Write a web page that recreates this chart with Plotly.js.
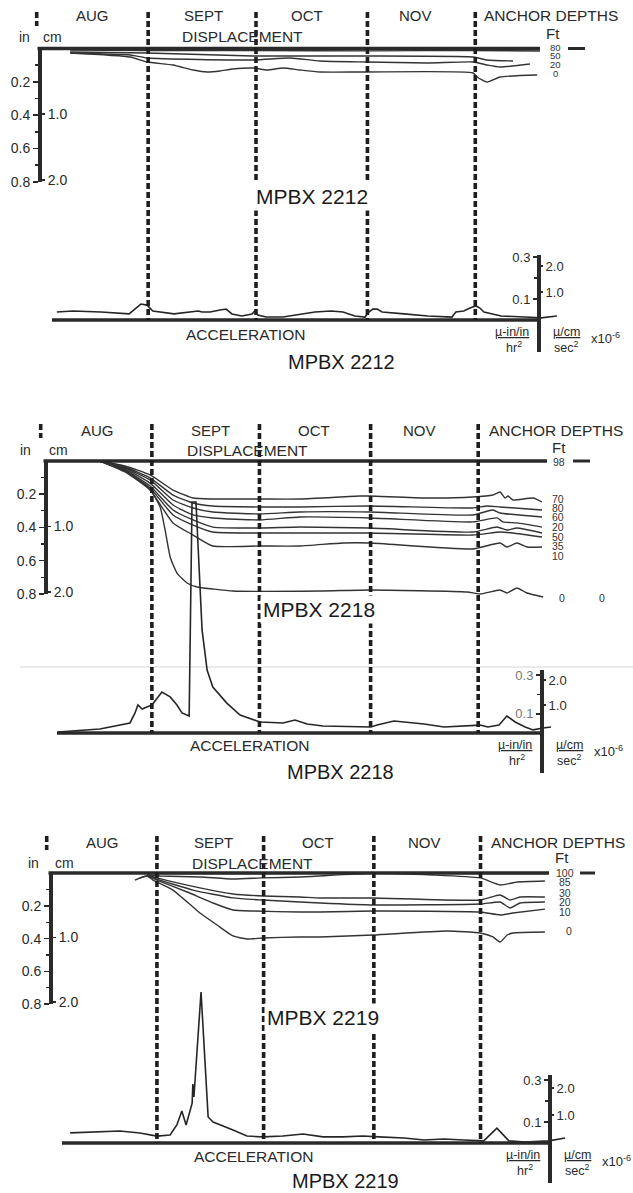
<!DOCTYPE html>
<html><head><meta charset="utf-8">
<script src="https://cdn.plot.ly/plotly-3.0.1.min.js"></script>
<style>html,body{margin:0;padding:0;background:#fff;}#chart{width:633px;height:1193px;}</style>
</head><body><div id="chart"></div>
<script>
// ================= DATA =================
const months = ['AUG', 'SEPT', 'OCT', 'NOV'];
const monthStartDays = [0, 31, 61, 92, 122];          // Aug 1, Sep 1, Oct 1, Nov 1, Dec 1 (days from Aug 1)
const instruments = ['MPBX 2212', 'MPBX 2218', 'MPBX 2219'];
const inTickVals = [0.2, 0.4, 0.6, 0.8];
const inMinorTicks = [0.1, 0.3, 0.5, 0.7];
const cmTickVals = [1.0, 2.0];
const accTickVals = [0.1, 0.3];
const accMinorTicks = [0.2];
const accCmTickVals = [1.0, 2.0];

// ---- MPBX 2212 : displacement (in) per anchor depth (ft) ----
const p1Depths = ['80', '50', '20', '0'];
const p1Day80 = [9.3, 30.7, 61.3, 92.4, 121.4, 140.0];
const p1In80  = [0.010, 0.012, 0.012, 0.014, 0.012, 0.015];
const p1Day50 = [9.3, 30.7, 60.2, 78.8, 91.9, 121.4, 125.3, 132.5];
const p1In50  = [0.021, 0.027, 0.045, 0.045, 0.045, 0.051, 0.069, 0.075];
const p1Day20 = [9.3, 26.0, 30.7, 60.2, 70.5, 78.8, 91.9, 108.6, 121.4, 125.3, 128.9, 137.2];
const p1In20  = [0.027, 0.039, 0.057, 0.069, 0.057, 0.075, 0.081, 0.087, 0.081, 0.099, 0.111, 0.093];
const p1Day0  = [9.3, 26.0, 30.7, 37.9, 43.5, 47.4, 51.0, 54.6, 60.2, 64.1, 68.5, 73.2, 78.8, 91.9, 121.4, 122.5, 125.3, 128.9, 139.2];
const p1In0   = [0.027, 0.051, 0.081, 0.099, 0.129, 0.141, 0.135, 0.123, 0.117, 0.129, 0.117, 0.129, 0.141, 0.141, 0.147, 0.171, 0.201, 0.171, 0.159];
// acceleration (micro-in/in/hr^2)
const p1AccDay = [5.6, 10.1, 17.9, 25.7, 27.3, 29.0, 30.7, 32.3, 38.2, 43.8, 44.9, 46.0, 48.2, 51.0, 52.7, 54.3, 57.1, 59.9, 60.7, 61.5, 63.8, 68.5, 77.4, 81.9, 85.2, 88.5, 91.3, 92.4, 93.5, 94.7, 96.1, 102.2, 108.8, 115.5, 116.6, 118.8, 120.5, 122.2, 123.3, 124.4, 129.2, 135.8, 140.3, 144.7];
const p1Acc    = [0.038, 0.043, 0.038, 0.029, 0.052, 0.076, 0.071, 0.043, 0.029, 0.038, 0.043, 0.038, 0.038, 0.048, 0.052, 0.029, 0.019, 0.029, 0.043, 0.024, 0.014, 0.014, 0.038, 0.043, 0.038, 0.019, 0.014, 0.038, 0.052, 0.052, 0.038, 0.029, 0.019, 0.014, 0.038, 0.043, 0.057, 0.067, 0.057, 0.038, 0.019, 0.014, 0.010, 0.019];

// ---- MPBX 2218 ----
const p2Depths = ['98', '70', '80', '60', '20', '50', '35', '10', '0'];
const p2Day70 = [16.5, 23.5, 30.5, 36.9, 42.5, 48.0, 61.1, 72.3, 89.0, 91.8, 107.7, 120.5, 126.1, 128.1, 129.5, 130.3, 131.7, 137.3, 139.8];
const p2In70  = [0, 0.030, 0.084, 0.175, 0.223, 0.229, 0.229, 0.229, 0.211, 0.211, 0.223, 0.217, 0.205, 0.187, 0.223, 0.211, 0.235, 0.223, 0.247];
const p2Day80 = [16.5, 23.5, 30.5, 36.9, 42.5, 48.0, 61.1, 72.3, 91.8, 120.5, 124.5, 128.1, 139.8];
const p2In80  = [0, 0.036, 0.102, 0.205, 0.253, 0.271, 0.277, 0.277, 0.271, 0.283, 0.271, 0.277, 0.295];
const p2Day60 = [16.5, 23.5, 30.5, 36.9, 42.5, 48.0, 61.1, 72.3, 91.8, 120.5, 126.1, 128.1, 139.8];
const p2In60  = [0, 0.042, 0.114, 0.235, 0.283, 0.307, 0.319, 0.307, 0.307, 0.325, 0.295, 0.313, 0.337];
const p2Day20 = [16.5, 23.5, 30.5, 36.9, 42.5, 48.0, 61.1, 72.3, 91.8, 120.5, 127.3, 128.9, 132.8, 139.8];
const p2In20  = [0, 0.048, 0.133, 0.265, 0.325, 0.343, 0.355, 0.337, 0.343, 0.367, 0.343, 0.367, 0.373, 0.398];
const p2Day50 = [16.5, 23.5, 30.5, 36.9, 42.5, 48.0, 61.1, 72.3, 91.8, 120.5, 127.3, 130.0, 132.8, 139.8];
const p2In50  = [0, 0.054, 0.151, 0.295, 0.355, 0.398, 0.404, 0.398, 0.404, 0.428, 0.398, 0.416, 0.404, 0.434];
const p2Day35 = [16.5, 23.5, 30.5, 36.9, 42.5, 48.0, 61.1, 72.3, 91.8, 120.5, 128.1, 131.7, 139.8];
const p2In35  = [0, 0.060, 0.163, 0.325, 0.386, 0.428, 0.434, 0.434, 0.434, 0.446, 0.428, 0.434, 0.458];
const p2Day10 = [16.5, 23.5, 30.5, 36.9, 42.5, 48.0, 61.1, 72.3, 84.3, 91.8, 120.5, 128.1, 130.0, 132.8, 135.6, 139.8];
const p2In10  = [0, 0.066, 0.175, 0.373, 0.446, 0.512, 0.512, 0.512, 0.494, 0.494, 0.530, 0.494, 0.518, 0.494, 0.518, 0.518];
const p2Day0  = [16.5, 24.1, 28.5, 31.0, 33.3, 34.7, 36.1, 38.0, 40.8, 43.6, 48.0, 53.6, 77.9, 91.8, 118.9, 122.5, 128.1, 130.0, 132.8, 135.6, 140.1];
const p2In0   = [0, 0.066, 0.133, 0.187, 0.277, 0.416, 0.578, 0.675, 0.735, 0.759, 0.771, 0.783, 0.783, 0.777, 0.789, 0.801, 0.777, 0.795, 0.765, 0.795, 0.819];
const p2AccDay = [4.8, 16.5, 24.9, 26.3, 27.1, 28.3, 29.6, 31.0, 33.8, 36.1, 38.0, 39.4, 41.4, 42.2, 43.3, 44.1, 45.0, 46.4, 48.0, 51.9, 55.6, 61.2, 67.6, 70.9, 74.3, 78.7, 87.6, 92.1, 93.8, 98.5, 101.3, 106.9, 112.5, 118.0, 122.5, 124.7, 127.8, 130.0, 132.3, 135.1, 137.3, 140.1, 142.3];
const p2Acc    = [0.005, 0.021, 0.052, 0.104, 0.145, 0.124, 0.135, 0.145, 0.212, 0.187, 0.145, 0.104, 0.088, 1.197, 1.197, 0.896, 0.534, 0.326, 0.238, 0.155, 0.093, 0.057, 0.052, 0.067, 0.047, 0.036, 0.031, 0.031, 0.041, 0.062, 0.057, 0.047, 0.031, 0.036, 0.041, 0.031, 0.041, 0.088, 0.057, 0.031, 0.016, 0.026, 0.031];

// ---- MPBX 2219 ----
const p3Depths = ['100', '85', '30', '20', '10', '0'];
const p3Day100 = [28.2, 31.0, 60.8, 91.8, 121.9, 141.0];
const p3In100  = [0.006, 0.004, 0.003, 0.002, 0.003, 0.004];
const p3Day85 = [28.2, 31.9, 43.1, 52.4, 60.8, 71.2, 91.8, 108.6, 121.9, 127.5, 132.3, 140.1];
const p3In85  = [0.012, 0.018, 0.024, 0.037, 0.030, 0.024, 0.002, 0.012, 0.030, 0.073, 0.055, 0.049];
const p3Day30 = [28.2, 31.0, 43.1, 52.4, 60.8, 71.2, 76.9, 91.8, 121.9, 127.5, 130.3, 133.1, 140.1];
const p3In30  = [0.012, 0.030, 0.091, 0.128, 0.140, 0.146, 0.152, 0.152, 0.165, 0.134, 0.165, 0.146, 0.146];
const p3Day20 = [28.2, 31.0, 41.1, 52.4, 60.8, 71.2, 76.9, 91.8, 121.9, 127.5, 130.3, 133.1, 140.1];
const p3In20  = [0.012, 0.037, 0.104, 0.152, 0.165, 0.177, 0.183, 0.195, 0.189, 0.177, 0.213, 0.183, 0.177];
const p3Day10 = [26.2, 28.2, 31.0, 39.5, 46.8, 52.4, 58.0, 71.2, 76.9, 91.8, 121.9, 127.5, 131.1, 140.1];
const p3In10  = [0.030, 0.018, 0.043, 0.116, 0.183, 0.226, 0.232, 0.238, 0.238, 0.232, 0.238, 0.256, 0.244, 0.220];
const p3Day0  = [24.8, 28.2, 29.9, 35.5, 43.1, 47.9, 52.4, 56.3, 60.8, 71.2, 76.9, 91.8, 112.6, 121.9, 125.5, 127.5, 129.5, 131.1, 140.1];
const p3In0   = [0.043, 0.018, 0.043, 0.104, 0.244, 0.317, 0.384, 0.402, 0.396, 0.390, 0.390, 0.378, 0.354, 0.366, 0.390, 0.421, 0.378, 0.366, 0.360];
const p3AccDay = [6.6, 13.0, 20.6, 26.2, 31.0, 34.7, 36.6, 38.0, 39.2, 40.9, 41.1, 41.4, 43.4, 45.4, 46.8, 52.4, 56.3, 60.8, 66.4, 72.1, 77.7, 83.3, 88.9, 93.4, 100.5, 106.1, 111.7, 117.3, 122.9, 126.6, 130.0, 134.5, 141.2, 145.8];
const p3Acc    = [0.048, 0.052, 0.057, 0.048, 0.033, 0.038, 0.086, 0.152, 0.086, 0.190, 0.281, 0.219, 0.719, 0.124, 0.100, 0.062, 0.033, 0.029, 0.033, 0.043, 0.029, 0.029, 0.033, 0.029, 0.024, 0.014, 0.019, 0.014, 0.010, 0.071, 0.010, 0.005, 0.010, 0.024];

// ================= BUILD =================
const W = 633, H = 1193;
const FONT = '"Liberation Sans", Arial, Helvetica, sans-serif';
const INK = '#2a2a2a';
const pyP = py => 1 - py / H;
const pxP = px => px / W;

const series = [
  { disp: [[p1Day80, p1In80], [p1Day50, p1In50], [p1Day20, p1In20], [p1Day0, p1In0]], acc: [p1AccDay, p1Acc] },
  { disp: [[p2Day70, p2In70], [p2Day80, p2In80], [p2Day60, p2In60], [p2Day20, p2In20], [p2Day50, p2In50], [p2Day35, p2In35], [p2Day10, p2In10], [p2Day0, p2In0]], acc: [p2AccDay, p2Acc] },
  { disp: [[p3Day100, p3In100], [p3Day85, p3In85], [p3Day30, p3In30], [p3Day20, p3In20], [p3Day10, p3In10], [p3Day0, p3In0]], acc: [p3AccDay, p3Acc] }
];

// layout geometry (pixels)
const geo = [
  { x0: 36.7, kx: 3.595, dz: 48.5, ds: 166.7, az: 320, as: 210, cz: 318, cs: 26, axL: 39, lineR: 540, accL: 52, accR: 538, rTop: 255, rBot: 352,
    dashTop: 12, dTop: 38, dBot: 205, aTop: 5, aBot: 335,
    monthX: [92, 203, 307, 415], monthY: 16, anchorX: 551, ftX: 553, ftY: 33, inX: 24, cmX: 52, unitY: 37, dispX: 242,
    midX: 312, midY: 197, accTxtX: 245, accTxtY: 334, botX: 341, botY: 362,
    depthSize: 9.5,
    depthLabels: [['80', 555, 47.5], ['50', 555, 56], ['20', 555, 64.5], ['0', 555, 73.5]], depthDash: [568, 585] },
  { x0: 40.7, kx: 3.586, dz: 461, ds: 166, az: 733, as: 193, cz: 730, cs: 25, axL: 45, lineR: 547, accL: 57, accR: 541, rTop: 670, rBot: 773,
    dashTop: 424, dTop: 451, dBot: 615, aTop: 415, aBot: 750,
    monthX: [97, 210, 314, 419], monthY: 430, anchorX: 556, ftX: 559, ftY: 447, inX: 25, cmX: 58, unitY: 450, dispX: 247,
    midX: 319, midY: 609, accTxtX: 249, accTxtY: 745, botX: 340, botY: 772,
    depthSize: 10.5,
    depthLabels: [['98', 559, 462], ['70', 558, 499], ['80', 558, 508], ['60', 558, 517], ['20', 558, 527], ['50', 558, 537], ['35', 558, 546], ['10', 558, 556], ['0', 562, 598], ['0', 602, 598]], depthDash: [573, 590] },
  { x0: 46.7, kx: 3.556, dz: 873, ds: 164, az: 1143, as: 210, cz: 1142, cs: 27, axL: 50, lineR: 549, accL: 62, accR: 549, rTop: 1075, rBot: 1183,
    dashTop: 836, dTop: 863, dBot: 1025, aTop: 830, aBot: 1160,
    monthX: [102, 214, 318, 424], monthY: 842, anchorX: 558, ftX: 562, ftY: 857, inX: 33, cmX: 64, unitY: 863, dispX: 252,
    midX: 323, midY: 1017, accTxtX: 253, accTxtY: 1156, botX: 345, botY: 1181,
    depthSize: 10.5,
    depthLabels: [['100', 565, 873], ['85', 565, 882], ['30', 565, 893], ['20', 565, 902], ['10', 565, 912], ['0', 569, 931]], depthDash: [580, 595] }
];

const layout = {
  width: W, height: H, autosize: false, margin: { l: 0, r: 0, t: 0, b: 0 },
  paper_bgcolor: '#ffffff', plot_bgcolor: 'rgba(0,0,0,0)', showlegend: false,
  shapes: [], annotations: []
};
const traces = [];

function ann(text, px, py, size, extra) {
  return Object.assign({
    text: text, x: pxP(px), y: pyP(py), xref: 'paper', yref: 'paper', showarrow: false,
    xanchor: 'center', yanchor: 'middle', font: { family: FONT, size: size, color: INK }
  }, extra || {});
}
const yk = n => n === 1 ? 'yaxis' : 'yaxis' + n;
const yr = n => n === 1 ? 'y' : 'y' + n;

const axBase = {
  showline: true, linewidth: 3.5, linecolor: INK, ticks: 'outside', ticklen: 5, tickwidth: 1.6, tickcolor: INK,
  showgrid: false, zeroline: false, fixedrange: true, tickmode: 'array'
};

geo.forEach((g, i) => {
  const xn = i + 1;
  const xkey = xn === 1 ? 'xaxis' : 'xaxis' + xn;
  const xr = xn === 1 ? 'x' : 'x' + xn;
  const b = i * 6;
  const id = { D: b + 1, A: b + 2, L: b + 3, Lc: b + 4, R: b + 5, Rc: b + 6 };

  layout[xkey] = { domain: [0, 1], range: [(0 - g.x0) / g.kx, (W - g.x0) / g.kx], visible: false, anchor: yr(id.D), fixedrange: true };
  layout[yk(id.D)] = { domain: [pyP(g.dBot), pyP(g.dTop)], range: [(g.dBot - g.dz) / g.ds, (g.dTop - g.dz) / g.ds], visible: false, anchor: xr, fixedrange: true };
  layout[yk(id.A)] = { domain: [pyP(g.aBot), pyP(g.aTop)], range: [(g.az - g.aBot) / g.as, (g.az - g.aTop) / g.as], visible: false, anchor: xr, fixedrange: true };

  // left displacement scale (in / cm)
  layout[yk(id.L)] = Object.assign({}, axBase, {
    domain: [pyP(g.dz + 0.8 * g.ds), pyP(g.dz)], range: [0.8, 0], anchor: 'free', position: pxP(g.axL), side: 'left',
    tickvals: inTickVals, ticktext: inTickVals.map(v => v.toFixed(1)),
    tickfont: { family: FONT, size: 14, color: INK },
    minor: { tickvals: inMinorTicks, ticks: 'outside', ticklen: 3, tickwidth: 1.4, tickcolor: INK, showgrid: false }
  });
  layout[yk(id.Lc)] = Object.assign({}, axBase, {
    showline: false, overlaying: yr(id.L), anchor: 'free', position: pxP(g.axL), side: 'right',
    range: [0.8 * 2.54, 0], tickvals: cmTickVals, ticktext: cmTickVals.map(v => v.toFixed(1)),
    tickfont: { family: FONT, size: 14, color: INK }
  });
  // right acceleration scale
  layout[yk(id.R)] = Object.assign({}, axBase, {
    domain: [pyP(g.rBot), pyP(g.rTop)], range: [(g.az - g.rBot) / g.as, (g.az - g.rTop) / g.as],
    anchor: 'free', position: pxP(g.accR), side: 'left', ticklen: 4,
    tickvals: accTickVals, ticktext: accTickVals.map(v => v.toFixed(1)),
    tickfont: { family: FONT, size: 13, color: i === 1 ? '#777' : INK },
    minor: { tickvals: accMinorTicks, ticks: 'outside', ticklen: 3, tickwidth: 1.4, tickcolor: INK, showgrid: false }
  });
  layout[yk(id.Rc)] = Object.assign({}, axBase, {
    showline: false, overlaying: yr(id.R), anchor: 'free', position: pxP(g.accR), side: 'right', ticklen: 4,
    range: [(g.cz - g.rBot) / g.cs, (g.cz - g.rTop) / g.cs], tickvals: accCmTickVals, ticktext: accCmTickVals.map(v => v.toFixed(1)),
    tickfont: { family: FONT, size: 13, color: INK }
  });

  // dummy traces to make the scale axes exist
  [id.L, id.Lc, id.R, id.Rc].forEach(n => traces.push({ type: 'scatter', x: [0], y: [0], mode: 'none', xaxis: xr, yaxis: yr(n), hoverinfo: 'skip', showlegend: false }));

  // displacement curves
  series[i].disp.forEach(s => traces.push({
    type: 'scatter', mode: 'lines', x: s[0], y: s[1], xaxis: xr, yaxis: yr(id.D),
    line: { color: '#333333', width: 1.4, shape: 'spline', smoothing: 0.5 }, hoverinfo: 'skip', showlegend: false
  }));
  // acceleration curve
  traces.push({
    type: 'scatter', mode: 'lines', x: series[i].acc[0], y: series[i].acc[1], xaxis: xr, yaxis: yr(id.A),
    line: { color: '#262626', width: 1.6 }, hoverinfo: 'skip', showlegend: false
  });

  // shapes: top displacement line, acceleration baseline, month dividers
  layout.shapes.push({ type: 'line', xref: 'paper', yref: 'paper', x0: pxP(g.axL - 1.5), x1: pxP(g.lineR), y0: pyP(g.dz), y1: pyP(g.dz), line: { color: INK, width: 3.5 } });
  layout.shapes.push({ type: 'line', xref: 'paper', yref: 'paper', x0: pxP(g.accL), x1: pxP(g.accR), y0: pyP(g.az), y1: pyP(g.az), line: { color: INK, width: 3.5 } });
  layout.shapes.push({ type: 'line', xref: 'paper', yref: 'paper', x0: pxP(g.depthDash[0]), x1: pxP(g.depthDash[1]), y0: pyP(g.dz), y1: pyP(g.dz), line: { color: INK, width: 3 } });
  monthStartDays.forEach((d, k) => {
    layout.shapes.push({
      type: 'line', xref: xr, yref: 'paper', x0: d, x1: d,
      y0: pyP(g.dashTop), y1: k === 0 ? pyP(g.dashTop + 14) : pyP(g.az),
      line: { color: '#1e1e1e', width: 3.6, dash: '6px,3px' }
    });
  });

  // texts
  months.forEach((m, k) => layout.annotations.push(ann(m, g.monthX[k], g.monthY, 15)));
  layout.annotations.push(ann('ANCHOR DEPTHS', g.anchorX, g.monthY, 15.5));
  layout.annotations.push(ann('Ft', g.ftX, g.ftY, 15));
  layout.annotations.push(ann('in', g.inX, g.unitY, 14));
  layout.annotations.push(ann('cm', g.cmX, g.unitY, 14));
  layout.annotations.push(ann('DISPLACEMENT', g.dispX, g.unitY, 15.5));
  layout.annotations.push(ann(instruments[i], g.midX, g.midY, 21, { font: { family: FONT, size: 21, color: '#1a1a1a' }, bgcolor: '#ffffff', borderpad: 2 }));
  layout.annotations.push(ann('ACCELERATION', g.accTxtX, g.accTxtY, 15.5));
  layout.annotations.push(ann(instruments[i], g.botX, g.botY, 20, { font: { family: FONT, size: 20, color: '#1a1a1a' } }));
  layout.annotations.push(ann('<u>\u00b5-in/in</u>', g.accR - 26, g.az + 12, 12.5));
  layout.annotations.push(ann('hr<sup>2</sup>', g.accR - 24, g.az + 27, 12.5));
  layout.annotations.push(ann('<u>\u00b5/cm</u>', g.accR + 28, g.az + 12, 12.5));
  layout.annotations.push(ann('sec<sup>2</sup>', g.accR + 28, g.az + 27, 12.5));
  layout.annotations.push(ann('x10<sup>-6</sup>', g.accR + 67, g.az + 18, 13));
  g.depthLabels.forEach(d => layout.annotations.push(ann(d[0], d[1], d[2], g.depthSize, { font: { family: FONT, size: g.depthSize, color: '#333' } })));
});

// faint scan crease across the second chart
layout.shapes.push({ type: 'line', xref: 'paper', yref: 'paper', x0: pxP(20), x1: 1, y0: pyP(667), y1: pyP(667), line: { color: '#e3e3e3', width: 1.5 }, layer: 'below' });

Plotly.newPlot('chart', traces, layout, { staticPlot: true, displayModeBar: false });
</script>
</body></html>
